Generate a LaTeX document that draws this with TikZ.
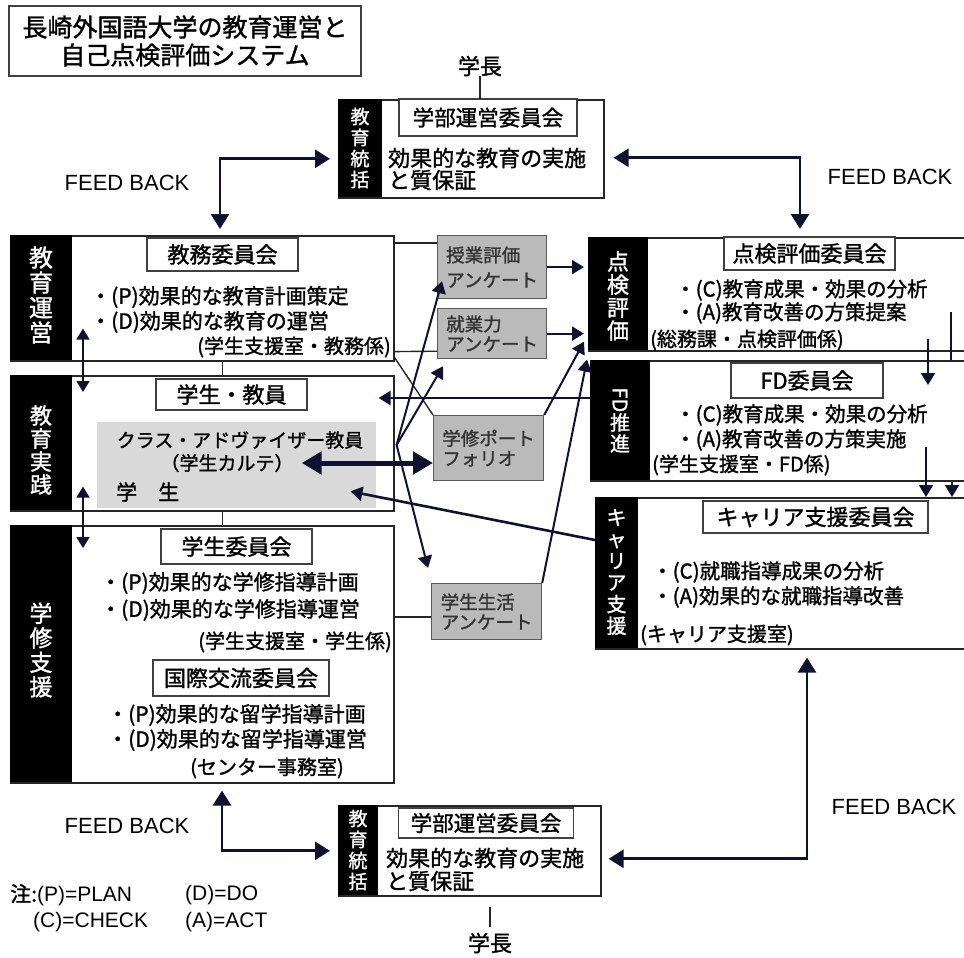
\documentclass[tikz,border=0pt]{standalone}
\usepackage{fontspec}
\setmainfont{Noto Sans CJK JP}[FakeBold=1.3]
\newfontfamily\en{Liberation Sans}
\usepackage{graphicx}
\usetikzlibrary{arrows.meta,calc}
\definecolor{arr}{RGB}{16,16,48}
\begin{document}
\begin{tikzpicture}[x=1pt,y=-1pt,
  box/.style={draw=black!85, line width=1.6pt, fill=white, inner sep=0, anchor=north west},
  strip/.style={fill=black, inner sep=0, anchor=north west},
  cbox/.style={draw=black!75, line width=1.2pt, fill=white, inner sep=0, font=\fontsize{22}{24}\selectfont},
  gbox/.style={draw=black!65, line width=1.2pt, fill=black!27, inner sep=0, anchor=north west, align=left, text=black!80},
  vt/.style={text=white, align=center, inner sep=0},
  tx/.style={inner sep=0, anchor=west},
  body/.style={tx, align=left, font=\fontsize{21}{25}\selectfont},
  off/.style={inner sep=0, font=\fontsize{20}{22}\selectfont},
  fbt/.style={inner sep=0, font=\en\fontsize{22}{24}\selectfont},
  ln/.style={draw=black!85, line width=1.4pt},
  fbb/.style={draw=arr, line width=2.8pt, {Triangle[length=15pt,width=18pt]}-{Triangle[length=15pt,width=18pt]}},
  ar/.style={draw=arr, line width=2pt, -{Triangle[length=12pt,width=14pt]}},
  ar2/.style={draw=arr, line width=1.8pt, {Triangle[length=11pt,width=13pt]}-{Triangle[length=11pt,width=13pt]}},
  thk/.style={draw=arr, line width=5pt, {Triangle[length=20pt,width=22pt]}-{Triangle[length=20pt,width=22pt]}}
]
\useasboundingbox (0,0) rectangle (964,958);
\clip (0,0) rectangle (964,958);

% title
\node[box, draw=black!75, line width=2pt, minimum width=352, minimum height=70, align=center,
  font=\fontsize{25}{28}\selectfont] (title) at (8,5) {長崎外国語大学の教育運営と\\自己点検評価システム};

% top governance box
\node[inner sep=0, font=\fontsize{22}{24}\selectfont] (boss1) at (480,66) {学長};
\node[box, minimum width=265, minimum height=98] (tb) at (338,99) {};
\node[strip, minimum width=44, minimum height=98] (tbs) at (338,99) {};
\node[vt, font=\fontsize{19}{21}\selectfont] (tbv) at (360,148) {教\\育\\統\\括};
\node[cbox, minimum width=178, minimum height=37, font=\fontsize{21.5}{24}\selectfont] (tbc) at (488,117.5) {学部運営委員会};
\node[tx, align=left, font=\fontsize{22}{22}\selectfont] (tbt) at (388,169) {効果的な教育の実施\\と質保証};
\draw[ln] (boss1.south) -- (boss1.south |- tb.north);

% left column
\node[box, minimum width=383, minimum height=125] (L1) at (10,235) {};
\node[strip, minimum width=62, minimum height=125] (L1s) at (10,235) {};
\node[vt, font=\fontsize{24}{25}\selectfont] (L1v) at (41,295) {教\\育\\運\\営};
\node[cbox, minimum width=151, minimum height=33] (L1c) at (222.5,254.5) {教務委員会};
\node[body] (L1t) at (90,309.5) {・(P)効果的な教育計画策定\\・(D)効果的な教育の運営};
\node[off, anchor=east] (L1o) at (391,347) {(学生支援室・教務係)};

\node[box, minimum width=383, minimum height=135] (L2) at (10,375) {};
\node[strip, minimum width=62, minimum height=135] (L2s) at (10,375) {};
\node[vt, font=\fontsize{22}{23}\selectfont] (L2v) at (41,450) {教\\育\\実\\践};
\node[cbox, minimum width=151, minimum height=31] (L2c) at (231.5,394.5) {学生・教員};
\node[fill=black!15, minimum width=279, minimum height=86, inner sep=0, anchor=north west] (gray1) at (97,422) {};
\node[inner sep=0, font=\fontsize{19}{22}\selectfont] (adv) at (240,440) {クラス・アドヴァイザー教員};
\node[inner sep=0, font=\fontsize{19}{22}\selectfont] (karte) at (227,463) {（学生カルテ）};
\node[tx, font=\fontsize{21}{24}\selectfont] (stud) at (116,492) {学　生};

\node[box, minimum width=383, minimum height=257] (L3) at (10,525) {};
\node[strip, minimum width=62, minimum height=257] (L3s) at (10,525) {};
\node[vt, font=\fontsize{23}{24.5}\selectfont] (L3v) at (41,650) {学\\修\\支\\援};
\node[cbox, minimum width=151, minimum height=35] (L3c1) at (236.5,546.5) {学生委員会};
\node[body, font=\fontsize{21}{27}\selectfont] (L3t1) at (100,596.5) {・(P)効果的な学修指導計画\\・(D)効果的な学修指導運営};
\node[off, anchor=east] (L3o1) at (392,642) {(学生支援室・学生係)};
\node[cbox, minimum width=176, minimum height=36] (L3c2) at (241,678) {国際交流委員会};
\node[body] (L3t2) at (107,727.5) {・(P)効果的な留学指導計画\\・(D)効果的な留学指導運営};
\node[off] (L3o2) at (267,768) {(センター事務室)};

\draw[ln] (L1c.center |- L1.south) -- (L1c.center |- L2.north);
\draw[ln] (L1c.center |- L2.south) -- (L1c.center |- L3.north);
\draw[ar2] ($(L1.south west)+(73,-33)$) -- ($(L2.north west)+(73,17)$);
\draw[ar2] ($(L2.south west)+(73,-25)$) -- ($(L3.north west)+(73,23)$);

% gray survey boxes
\node[gbox, minimum width=109, minimum height=63, font=\fontsize{18.5}{25}\selectfont] (g1) at (437,235) {授業評価\\アンケート};
\node[gbox, minimum width=109, minimum height=50, font=\fontsize{18.5}{20}\selectfont] (g2) at (437,308) {就業力\\アンケート};
\node[gbox, minimum width=110, minimum height=65, font=\fontsize{18.5}{20}\selectfont] (g3) at (433,415) {学修ポート\\フォリオ};
\node[gbox, minimum width=110, minimum height=56, font=\fontsize{18.5}{20}\selectfont] (g4) at (431,583) {学生生活\\アンケート};

% right column
\node[box, minimum width=380, minimum height=113] (R1) at (588,237) {};
\node[strip, minimum width=60, minimum height=113] (R1s) at (588,237) {};
\node[vt, font=\fontsize{22}{23}\selectfont] (R1v) at (618,296) {点\\検\\評\\価};
\node[cbox, minimum width=171, minimum height=33] (R1c) at (809.5,253.5) {点検評価委員会};
\node[body, font=\fontsize{20.5}{23}\selectfont] (R1t) at (675,301.5) {・(C)教育成果・効果の分析\\・(A)教育改善の方策提案};
\node[off, tx] (R1o) at (650,340) {(総務課・点検評価係)};

\node[box, minimum width=378, minimum height=120] (R2) at (590,360) {};
\node[strip, minimum width=60, minimum height=120] (R2s) at (590,360) {};
\node[vt, font=\fontsize{20}{21}\selectfont] (R2v) at (620,420) {\rotatebox{-90}{FD}\\推\\進};
\node[cbox, minimum width=152, minimum height=35] (R2c) at (807,380.5) {FD委員会};
\node[body, font=\fontsize{20.5}{25}\selectfont] (R2t) at (675,427.5) {・(C)教育成果・効果の分析\\・(A)教育改善の方策実施};
\node[off, tx] (R2o) at (652,465) {(学生支援室・FD係)};

\node[box, minimum width=373, minimum height=151] (R3) at (595,497) {};
\node[strip, minimum width=43, minimum height=151] (R3s) at (595,497) {};
\node[vt, font=\fontsize{20}{21.7}\selectfont] (R3v) at (616.5,572) {キ\\ャ\\リ\\ア\\支\\援};
\node[cbox, minimum width=225, minimum height=32] (R3c) at (815.5,517) {キャリア支援委員会};
\node[body, font=\fontsize{20.5}{25}\selectfont] (R3t) at (652,584.5) {・(C)就職指導成果の分析\\・(A)効果的な就職指導改善};
\node[off, tx] (R3o) at (640,635) {(キャリア支援室)};

% bottom governance box
\node[box, minimum width=262, minimum height=90] (bb) at (338,805) {};
\node[strip, minimum width=40, minimum height=90] (bbs) at (338,805) {};
\node[vt, font=\fontsize{19}{21}\selectfont] (bbv) at (358,850) {教\\育\\統\\括};
\node[cbox, minimum width=175, minimum height=30, font=\fontsize{21.5}{24}\selectfont] (bbc) at (486,823) {学部運営委員会};
\node[tx, align=left, font=\fontsize{22}{23}\selectfont] (bbt) at (386,869.5) {効果的な教育の実施\\と質保証};
\node[inner sep=0, font=\fontsize{22}{24}\selectfont] (boss2) at (490,943) {学長};
\draw[ln] ($(boss2.north)+(0,-6)$) -- ($(boss2.north)+(0,-26)$);

% notes
\node[tx, font=\fontsize{21}{24}\selectfont] (note1) at (10,895) {注:{\en(P)=PLAN}};
\node[tx, font=\en\fontsize{21}{24}\selectfont] (note1b) at (185,895) {(D)=DO};
\node[tx, font=\en\fontsize{21}{24}\selectfont] (note2) at (33,922) {(C)=CHECK};
\node[tx, font=\en\fontsize{21}{24}\selectfont] (note2b) at (185,922) {(A)=ACT};

% FEED BACK labels
\node[fbt] (fb1) at (127,183) {FEED BACK};
\node[fbt] (fb2) at (890,177) {FEED BACK};
\node[fbt] (fb3) at (127,826) {FEED BACK};
\node[fbt] (fb4) at (894,807) {FEED BACK};

% feedback arrows
\draw[fbb] ($(tb.west)+(-8,10)$) -| ($(L1.north west)+(210,-6)$);
\draw[fbb] ($(tb.east)+(9,9)$) -| ($(R1.north west)+(212,-8)$);
\draw[fbb] ($(L3.south west)+(212,7)$) |- ($(bb.west)+(-8,0)$);
\draw[fbb] ($(bb.east)+(7,8)$) -| ($(R3.south west)+(212,8)$);

% plain connecting lines to survey boxes
\draw[ln] ($(L1.north east)+(0,8)$) -- ($(g1.north west)+(0,8)$);
\draw[ln] ($(L1.south east)+(0,-10)$) -- ($(g2.south west)+(0,-8)$);
\draw[ln] ($(L1.south east)+(0,-4)$) -- (g3.north west);
\draw[ln] ($(L3.north east)+(0,92)$) -- ($(g4.north west)+(0,34)$);

% survey boxes to evaluation
\draw[ar, shorten >=4pt] (g1.east) -- (g1.east -| R1.west);
\draw[ar, shorten >=4pt] (g2.east) -- (g2.east -| R1.west);
\draw[ar] (g3.north east) -- ($(R1.south west)+(-4,-10)$);
\draw[ar] (g4.north east) -- ($(R1.south west)+(-1,8)$);

% fan from education practice
\coordinate (fan) at ($(L2.north east)+(2,70)$);
\draw[ar] (fan) -- ($(g1.south west)+(5,-18)$);
\draw[ar] (fan) -- ($(g2.south west)+(6,7)$);
\draw[ar] (fan) -- ($(g4.north west)+(-3,-15)$);
\draw[thk] ($(karte.east)+(8,0)$) -- (karte.east -| g3.west);

% feedback from FD and career
\draw[ar, line width=2.4pt] ($(R2.north west)+(0,38)$) -- ($(L2.north east)+(-16,23)$);
\draw[ar, line width=2.6pt] ($(R3.north west)+(0,43)$) -- ($(gray1.south east)+(-26,-17)$);

% right-side vertical arrows
\draw[draw=arr, line width=1.8pt] ($(R2.north west)+(361,-48)$) -- ($(R2.north west)+(361,0)$);
\draw[ar] ($(R1.south west)+(340,-13)$) -- ($(R2.north west)+(338,25)$);
\draw[ar] ($(R2.south west)+(336,-35)$) -- ($(R3.north west)+(331,0)$);
\draw[ar] ($(R2.south west)+(362,0)$) -- ($(R3.north west)+(357,0)$);
\end{tikzpicture}
\end{document}
